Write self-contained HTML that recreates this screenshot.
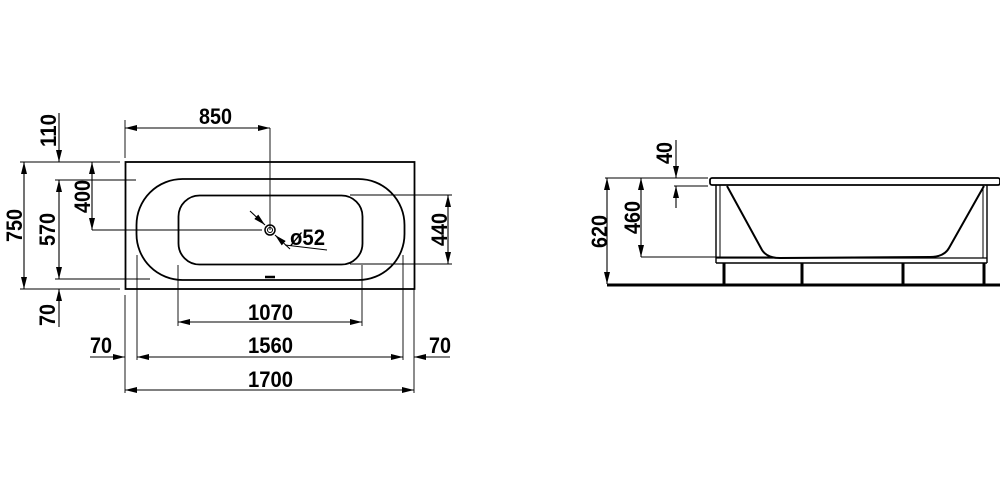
<!DOCTYPE html>
<html><head><style>
html,body{margin:0;padding:0;background:#fff;width:1000px;height:500px;overflow:hidden}
text{font-family:"Liberation Sans",sans-serif;font-weight:bold;font-size:22px;fill:#000}
</style></head><body>
<svg width="1000" height="500" viewBox="0 0 1000 500" xmlns="http://www.w3.org/2000/svg">
<defs>
<marker id="a" viewBox="0 0 12 6" refX="12" refY="3" markerWidth="12" markerHeight="6" markerUnits="userSpaceOnUse" orient="auto-start-reverse"><path d="M0,0L12,3L0,6z" fill="#000"/></marker>
</defs>
<g fill="none" stroke="#000">
<rect x="125.5" y="162" width="289" height="127" stroke-width="1.8"/>
<rect x="136.5" y="179" width="268" height="101" rx="46" stroke-width="1.8"/>
<rect x="178.5" y="195.5" width="184" height="69" rx="21" stroke-width="1.8"/>
<line x1="265" y1="277" x2="275" y2="277" stroke-width="2.5"/>
<circle cx="270" cy="230" r="5" stroke-width="1.5"/>
<circle cx="270" cy="230" r="2.5" stroke-width="1"/>
<g stroke-width="0.9">
<line x1="270" y1="128" x2="270" y2="230"/>
<line x1="125" y1="120" x2="125" y2="158"/>
<line x1="92" y1="230" x2="262" y2="230"/>
<line x1="20" y1="162" x2="120" y2="162"/>
<line x1="20" y1="289" x2="120" y2="289"/>
<line x1="55" y1="180" x2="136" y2="180"/>
<line x1="55" y1="279" x2="150" y2="279"/>
<line x1="350" y1="195" x2="452" y2="195"/>
<line x1="350" y1="264" x2="452" y2="264"/>
<line x1="178" y1="265" x2="178" y2="326"/>
<line x1="362" y1="265" x2="362" y2="326"/>
<line x1="137" y1="255" x2="137" y2="360"/>
<line x1="403" y1="255" x2="403" y2="360"/>
<line x1="125" y1="295" x2="125" y2="393"/>
<line x1="414" y1="289" x2="414" y2="393"/>
<line x1="285" y1="245" x2="327" y2="250"/>
</g>
<g stroke-width="1.1" marker-end="url(#a)" marker-start="url(#a)">
<line x1="125" y1="128" x2="270" y2="128"/>
<line x1="24" y1="162" x2="24" y2="289"/>
<line x1="59" y1="180" x2="59" y2="279"/>
<line x1="92" y1="162" x2="92" y2="230"/>
<line x1="448" y1="195" x2="448" y2="264"/>
<line x1="178" y1="322" x2="362" y2="322"/>
<line x1="137" y1="357" x2="403" y2="357"/>
<line x1="125" y1="390" x2="414" y2="390"/>
</g>
<g stroke-width="1.1" marker-end="url(#a)">
<line x1="59" y1="113" x2="59" y2="162"/>
<line x1="59" y1="327" x2="59" y2="289"/>
<line x1="90" y1="357" x2="125" y2="357"/>
<line x1="450" y1="357" x2="414" y2="357"/>
<line x1="250" y1="211" x2="265" y2="225"/>
<line x1="290" y1="249" x2="275" y2="235"/>
</g>
<rect x="710" y="178" width="290" height="7" rx="2" stroke-width="1.8"/>
<line x1="716" y1="185" x2="716" y2="263" stroke-width="1.4"/>
<line x1="720" y1="185" x2="720" y2="258" stroke-width="1"/>
<line x1="987" y1="185" x2="987" y2="263" stroke-width="1.4"/>
<line x1="983" y1="185" x2="983" y2="258" stroke-width="1"/>
<line x1="716" y1="258" x2="987" y2="258" stroke-width="1.2"/>
<line x1="716" y1="263" x2="987" y2="263" stroke-width="1.4"/>
<path d="M727,186 L762,250 Q767,258 780,258 L930,257 Q944,257 949,248 L984,186" stroke-width="2"/>
<g stroke-width="3">
<line x1="724" y1="263" x2="724" y2="284"/>
<line x1="802" y1="263" x2="802" y2="284"/>
<line x1="903" y1="263" x2="903" y2="284"/>
<line x1="984" y1="263" x2="984" y2="284"/>
</g>
<line x1="607" y1="285" x2="1000" y2="285" stroke-width="3"/>
<g stroke-width="0.9">
<line x1="605" y1="178" x2="708" y2="178"/>
<line x1="674" y1="186" x2="708" y2="186"/>
<line x1="641" y1="257" x2="770" y2="257"/>
</g>
<g stroke-width="1.1" marker-end="url(#a)" marker-start="url(#a)">
<line x1="607" y1="178" x2="607" y2="284"/>
<line x1="641" y1="178" x2="641" y2="257"/>
</g>
<g stroke-width="1.1" marker-end="url(#a)">
<line x1="676" y1="140" x2="676" y2="178"/>
<line x1="676" y1="208" x2="676" y2="186"/>
</g>
</g>
<g>
<text x="199" y="124" textLength="33" lengthAdjust="spacingAndGlyphs">850</text>
<text transform="translate(56,147) rotate(-90)" textLength="33" lengthAdjust="spacingAndGlyphs">110</text>
<text transform="translate(22,242) rotate(-90)" textLength="33" lengthAdjust="spacingAndGlyphs">750</text>
<text transform="translate(55,246) rotate(-90)" textLength="33" lengthAdjust="spacingAndGlyphs">570</text>
<text transform="translate(90,213) rotate(-90)" textLength="33" lengthAdjust="spacingAndGlyphs">400</text>
<text transform="translate(55,326) rotate(-90)" textLength="22" lengthAdjust="spacingAndGlyphs">70</text>
<text transform="translate(447,246) rotate(-90)" textLength="33" lengthAdjust="spacingAndGlyphs">440</text>
<text x="290" y="245" textLength="35" lengthAdjust="spacingAndGlyphs">ø52</text>
<text x="248" y="320" textLength="45" lengthAdjust="spacingAndGlyphs">1070</text>
<text x="248" y="353" textLength="45" lengthAdjust="spacingAndGlyphs">1560</text>
<text x="248" y="387" textLength="45" lengthAdjust="spacingAndGlyphs">1700</text>
<text x="90" y="353" textLength="22" lengthAdjust="spacingAndGlyphs">70</text>
<text x="429" y="353" textLength="22" lengthAdjust="spacingAndGlyphs">70</text>
<text transform="translate(672,164) rotate(-90)" textLength="22" lengthAdjust="spacingAndGlyphs">40</text>
<text transform="translate(607,248) rotate(-90)" textLength="33" lengthAdjust="spacingAndGlyphs">620</text>
<text transform="translate(640,234) rotate(-90)" textLength="33" lengthAdjust="spacingAndGlyphs">460</text>
</g>
</svg>
</body></html>
